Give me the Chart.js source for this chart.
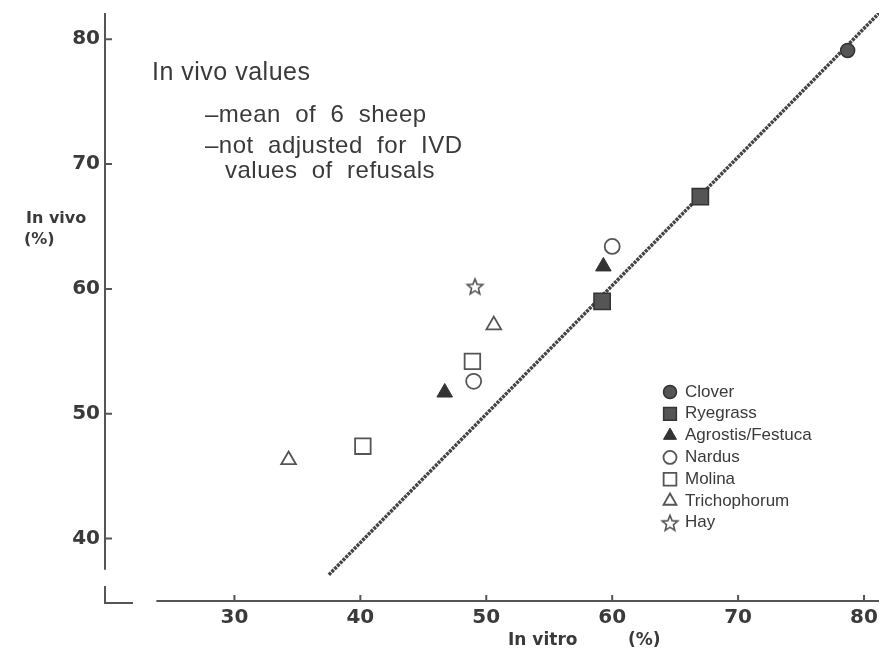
<!DOCTYPE html>
<html>
<head>
<meta charset="utf-8">
<script src="https://cdn.jsdelivr.net/npm/chart.js@4.4.1/dist/chart.umd.min.js"></script>
<style>
  html, body { margin: 0; padding: 0; background: #fff; }
  #wrap { width: 892px; height: 657px; }
</style>
</head>
<body>
<div id="wrap"><canvas id="chart" width="892" height="657"></canvas></div>
<script>
// values (in vitro %, in vivo %)
var species = ['Clover', 'Ryegrass', 'Agrostis/Festuca', 'Nardus', 'Molina', 'Trichophorum', 'Hay'];

var cloverX = [78.7],        cloverY = [79.1];
var ryegrassX = [59.2, 67.0], ryegrassY = [59.0, 67.4];
var agrostisX = [46.7, 59.3], agrostisY = [51.7, 61.8];
var nardusX = [49.0, 60.0],   nardusY = [52.6, 63.4];
var molinaX = [40.2, 48.9],   molinaY = [47.4, 54.2];
var trichoX = [34.3, 50.6],   trichoY = [46.3, 57.1];
var hayX = [49.1],            hayY = [60.2];

// fitted line, end points
var fitX = [37.5, 81.2];
var fitY = [37.1, 82.1];

var xTicks = [30, 40, 50, 60, 70, 80];
var yTicks = [40, 50, 60, 70, 80];

var notes = ['In vivo values', '\u2013mean  of  6  sheep', '\u2013not  adjusted  for  IVD', 'values  of  refusals'];

var ink = '#3a3a3a';

function pts(xs, ys) {
    return xs.map(function (x, i) { return { x: x, y: ys[i] }; });
}

// open star marker
function starImage() {
    var c = document.createElement('canvas');
    c.width = 20; c.height = 20;
    var g = c.getContext('2d');
    g.beginPath();
    for (var i = 0; i < 10; i++) {
        var r = i % 2 ? 3.6 : 8.2;
        var a = -Math.PI / 2 + i * Math.PI / 5;
        var px = 10 + r * Math.cos(a), py = 10.8 + r * Math.sin(a);
        if (i) g.lineTo(px, py); else g.moveTo(px, py);
    }
    g.closePath();
    g.fillStyle = '#fff';
    g.fill();
    g.lineWidth = 1.6;
    g.strokeStyle = '#555';
    g.stroke();
    return c;
}
var star = starImage();

var markerStyles = [
    { pointStyle: 'circle',   radius: 7,   bg: '#555', border: '#333', bw: 1.5 },
    { pointStyle: 'rect',     radius: 11.5, bg: '#555', border: '#333', bw: 1.5 },
    { pointStyle: 'triangle', radius: 9,   bg: '#333', border: '#333', bw: 1 },
    { pointStyle: 'circle',   radius: 7.5, bg: '#fff', border: '#555', bw: 1.8 },
    { pointStyle: 'rect',     radius: 11,  bg: '#fff', border: '#555', bw: 1.8 },
    { pointStyle: 'triangle', radius: 8.5, bg: '#fff', border: '#555', bw: 1.8 },
    { pointStyle: star,       radius: 9,   bg: '#fff', border: '#555', bw: 1.6 }
];

var seriesData = [
    pts(cloverX, cloverY), pts(ryegrassX, ryegrassY), pts(agrostisX, agrostisY),
    pts(nardusX, nardusY), pts(molinaX, molinaY), pts(trichoX, trichoY), pts(hayX, hayY)
];

var datasets = species.map(function (name, i) {
    var m = markerStyles[i];
    return {
        label: name,
        data: seriesData[i],
        pointStyle: m.pointStyle,
        pointRadius: m.radius,
        pointBackgroundColor: m.bg,
        pointBorderColor: m.border,
        pointBorderWidth: m.bw,
        showLine: false
    };
});

datasets.push({
    label: 'fit',
    data: pts(fitX, fitY),
    showLine: true,
    borderColor: '#444',
    borderWidth: 3.5,
    borderDash: [3, 1],
    pointRadius: 0
});

var yAxisStart = 37.5;  // where the drawn y axis line stops
var xAxisStart = 23.8;  // where the drawn x axis line starts

var decor = {
    id: 'decor',
    afterDraw: function (chart) {
        var ctx = chart.ctx;
        var a = chart.chartArea;
        var xs = chart.scales.x, ys = chart.scales.y;
        ctx.save();
        ctx.strokeStyle = '#555';
        ctx.lineWidth = 2;

        // y axis
        ctx.beginPath();
        ctx.moveTo(a.left, a.top);
        ctx.lineTo(a.left, ys.getPixelForValue(yAxisStart));
        yTicks.forEach(function (v) {
            var py = ys.getPixelForValue(v);
            ctx.moveTo(a.left, py);
            ctx.lineTo(a.left + 7, py);
        });
        // corner
        ctx.moveTo(a.left, a.bottom - 15);
        ctx.lineTo(a.left, a.bottom + 2);
        ctx.lineTo(a.left + 28, a.bottom + 2);
        // x axis
        ctx.moveTo(xs.getPixelForValue(xAxisStart), a.bottom);
        ctx.lineTo(a.right, a.bottom);
        xTicks.forEach(function (v) {
            var px = xs.getPixelForValue(v);
            ctx.moveTo(px, a.bottom);
            ctx.lineTo(px, a.bottom - 6);
        });
        ctx.stroke();

        // axis titles
        ctx.fillStyle = ink;
        ctx.textBaseline = 'middle';
        ctx.textAlign = 'left';
        ctx.font = 'bold 16px "DejaVu Sans"';
        ctx.fillText('In vivo', 26, 219);
        ctx.fillText('(%)', 24, 240);
        ctx.font = 'bold 17px "DejaVu Sans"';
        ctx.fillText('In vitro', 508, 641);
        ctx.fillText('(%)', 628, 641);

        // notes
        ctx.letterSpacing = '0.5px';
        ctx.font = '25px "Liberation Sans", Arial';
        ctx.fillText(notes[0], 152, 73);
        ctx.font = '24px "Liberation Sans", Arial';
        ctx.fillText(notes[1], 205, 115);
        ctx.fillText(notes[2], 205, 146);
        ctx.fillText(notes[3], 225, 171);
        ctx.letterSpacing = '0px';

        // legend
        ctx.font = '17px "Liberation Sans", Arial';
        species.forEach(function (name, i) {
            var m = markerStyles[i];
            var ly = 392 + i * 21.8;
            ctx.fillStyle = m.bg;
            ctx.strokeStyle = m.border;
            ctx.lineWidth = m.bw;
            Chart.helpers.drawPoint(ctx, {
                pointStyle: m.pointStyle,
                radius: m.pointStyle === 'rect' ? 9 : (m.pointStyle === 'triangle' ? 7.5 : 6.5),
                borderWidth: m.bw,
                rotation: 0
            }, 670, ly);
            ctx.fillStyle = ink;
            ctx.fillText(name, 685, ly);
        });
        ctx.restore();
    }
};

new Chart(document.getElementById('chart'), {
    type: 'scatter',
    data: { datasets: datasets },
    options: {
        responsive: false,
        animation: false,
        layout: { padding: { top: 7, right: 10, left: 0, bottom: 0 } },
        plugins: { legend: { display: false }, tooltip: { enabled: false } },
        scales: {
            x: {
                type: 'linear',
                min: 19.72,
                max: 81.19,
                grid: { display: false, drawTicks: false },
                border: { display: false },
                afterBuildTicks: function (s) { s.ticks = xTicks.map(function (v) { return { value: v }; }); },
                afterFit: function (s) { s.height = 56; s.paddingLeft = 0; s.paddingRight = 0; },
                ticks: { color: ink, padding: 5, font: { family: 'DejaVu Sans', size: 20, weight: 'bold' } }
            },
            y: {
                type: 'linear',
                min: 35,
                max: 82.1,
                grid: { display: false, drawTicks: false },
                border: { display: false },
                afterBuildTicks: function (s) { s.ticks = yTicks.map(function (v) { return { value: v }; }); },
                afterFit: function (s) { s.width = 105; s.paddingTop = 0; s.paddingBottom = 0; },
                ticks: { color: ink, padding: 5, font: { family: 'DejaVu Sans', size: 20, weight: 'bold' } }
            }
        }
    },
    plugins: [decor]
});
</script>
</body>
</html>
